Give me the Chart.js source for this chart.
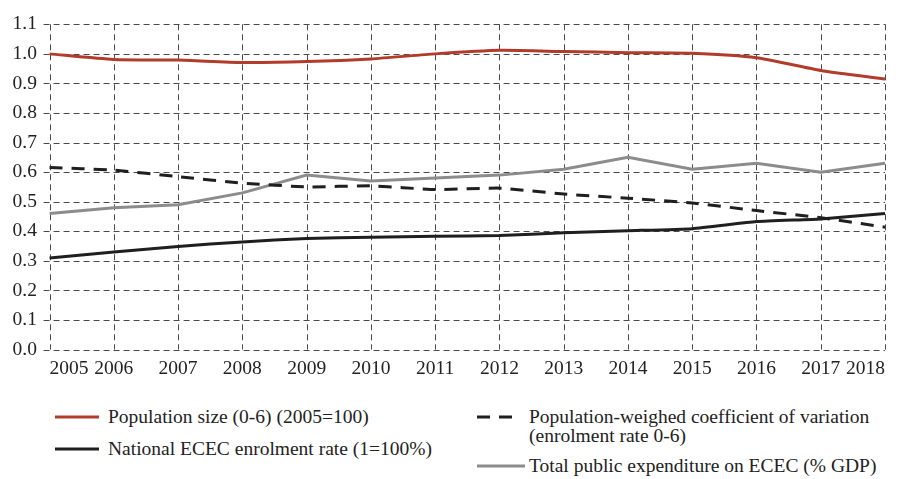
<!DOCTYPE html>
<html lang="en">
<head>
  <meta charset="UTF-8">
  <title>ECEC indicators 2005-2018</title>
  <script src="https://cdn.jsdelivr.net/npm/chart.js"></script>
  <style>
    body { margin: 0; background: #fff; font-family: 'Liberation Serif', 'Times New Roman', Tinos, 'DejaVu Serif', serif; }
    #wrap { position: relative; width: 900px; height: 479px; }
    #chartBox { position: absolute; left: 0; top: 0; width: 900px; height: 390px; }
    .item { position: absolute; display: flex; align-items: flex-start; font-size: 19.5px; line-height: 19px; color: #222; }
    .item svg { flex: none; }
    .item span { display: block; }
    /* two legend columns, same order as the series arrays */
    .li0 { left: 55px; top: 407px; }
    .li1 { left: 55px; top: 439px; }
    .li2 { left: 477px; top: 407px; width: 420px; }
    .li3 { left: 477px; top: 456px; }
    .li0 svg, .li1 svg { width: 44px; margin-right: 9px; }
    .li2 svg, .li3 svg { width: 48px; margin-right: 4px; }
  </style>
</head>
<body>
<div id="wrap">
  <div id="chartBox"><canvas id="myChart"></canvas></div>
  <div id="legend"></div>
</div>
<script>
  const years = ['2005', '2006', '2007', '2008', '2009', '2010', '2011', '2012', '2013', '2014', '2015', '2016', '2017', '2018'];

  // Population size (0-6), 2005 = 1.0
  const population = [1.000, 0.981, 0.979, 0.971, 0.974, 0.983, 1.000, 1.012, 1.008, 1.004, 1.002, 0.987, 0.944, 0.915];
  // National ECEC enrolment rate
  const enrolment = [0.310, 0.330, 0.349, 0.364, 0.376, 0.380, 0.383, 0.386, 0.395, 0.402, 0.409, 0.433, 0.442, 0.460];
  // Population-weighed coefficient of variation
  const coefVar = [0.616, 0.607, 0.585, 0.563, 0.550, 0.554, 0.541, 0.546, 0.526, 0.512, 0.496, 0.470, 0.446, 0.414];
  // Total public expenditure on ECEC (% GDP)
  const expenditure = [0.46, 0.48, 0.49, 0.53, 0.59, 0.57, 0.58, 0.59, 0.61, 0.65, 0.61, 0.63, 0.60, 0.63];

  const seriesNames = [
    'Population size (0-6) (2005=100)',
    'National ECEC enrolment rate (1=100%)',
    'Population-weighed coefficient of variation (enrolment rate 0-6)',
    'Total public expenditure on ECEC (% GDP)'
  ];

  const FONT = "'Liberation Serif', 'Times New Roman', Tinos, 'DejaVu Serif', serif";
  const RED = '#b23c2c';
  const BLACK = '#1f1f1f';
  const GREY = '#8c8c8c';
  const GRID = '#4a4a4a';

  const datasets = [
    { label: seriesNames[0], data: population, borderColor: RED, tension: 0.2 },
    { label: seriesNames[1], data: enrolment, borderColor: BLACK, tension: 0.15 },
    { label: seriesNames[2], data: coefVar, borderColor: BLACK, borderDash: [13, 9], tension: 0.1 },
    { label: seriesNames[3], data: expenditure, borderColor: GREY, tension: 0 }
  ].map(d => Object.assign({ borderWidth: 3, pointRadius: 0, fill: false }, d));

  // dashed grid drawn from the scales' own tick pixels (the built-in grid came out solid)
  const dashedGrid = {
    id: 'dashedGrid',
    beforeDatasetsDraw(chart) {
      const { ctx, chartArea: a, scales: { x, y } } = chart;
      ctx.save();
      ctx.strokeStyle = GRID;
      ctx.lineWidth = 1;
      ctx.setLineDash([6, 4]);
      y.ticks.forEach((t, i) => {
        const py = Math.round(y.getPixelForTick(i)) + 0.5;
        ctx.beginPath(); ctx.moveTo(a.left - 6, py); ctx.lineTo(a.right, py); ctx.stroke();
      });
      x.ticks.forEach((t, i) => {
        const px = Math.round(x.getPixelForTick(i)) + 0.5;
        ctx.beginPath(); ctx.moveTo(px, a.top); ctx.lineTo(px, a.bottom); ctx.stroke();
      });
      ctx.restore();
    }
  };

  const hidden = { display: false };

  new Chart(document.getElementById('myChart'), {
    type: 'line',
    data: { labels: years, datasets: datasets },
    options: {
      responsive: true,
      maintainAspectRatio: false,
      animation: false,
      layout: { padding: { left: 0, right: 15, top: 13, bottom: 1 } },
      plugins: { legend: { display: false }, tooltip: { enabled: false } },
      scales: {
        x: {
          offset: false,
          border: hidden,
          grid: { drawOnChartArea: false, drawTicks: false },
          ticks: { color: '#222', padding: 8, maxRotation: 0, autoSkip: false, align: 'inner',
                   font: { family: FONT, size: 19.5 } }
        },
        y: {
          min: 0,
          max: 1.1,
          border: hidden,
          grid: { drawOnChartArea: false, drawTicks: false },
          ticks: { stepSize: 0.1, color: '#222', padding: 12.6,
                   font: { family: FONT, size: 19.5 },
                   callback: v => v.toFixed(1) }
        }
      }
    },
    plugins: [dashedGrid]
  });

  // legend built from the same series, two columns like the original
  const legendBox = document.getElementById('legend');
  datasets.forEach((d, i) => {
    const len = i < 2 ? 44 : (d.borderDash ? 36 : 48);
    const dash = d.borderDash ? ` stroke-dasharray="${d.borderDash.join(',')}"` : '';
    legendBox.insertAdjacentHTML('beforeend',
      `<div class="item li${i}">
         <svg height="19"><line x1="0" y1="10" x2="${len}" y2="10" stroke="${d.borderColor}" stroke-width="3"${dash}/></svg>
         <span>${d.label}</span>
       </div>`);
  });
</script>
</body>
</html>
